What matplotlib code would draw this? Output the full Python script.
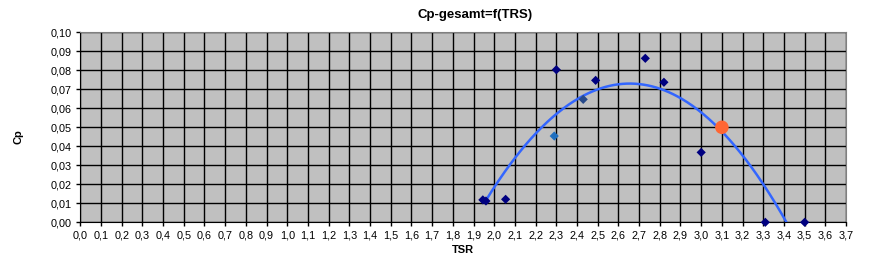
import matplotlib
matplotlib.use("Agg")
import matplotlib.pyplot as plt
import numpy as np
from matplotlib.ticker import FuncFormatter, MultipleLocator

plt.rcParams['font.family'] = ['Liberation Sans', 'DejaVu Sans']

# measured points (TSR, Cp)
tsr = [1.945, 1.96, 2.055, 2.29, 2.30, 2.43, 2.49, 2.73, 2.82, 3.00, 3.31, 3.50]
cp = [0.0118, 0.0112, 0.0121, 0.0454, 0.0803, 0.0647, 0.0747, 0.0863, 0.0737, 0.0368, 0.0, 0.0]
pt_colors = ['#000080', '#000080', '#000080', '#1f6fbf', '#000080', '#274a8a',
             '#000080', '#000080', '#000080', '#000080', '#000080', '#000080']

# design point
tsr_op = [3.10]
cp_op = [0.050]

# polynomial trendline (2nd order) through the measured points
coef = np.polyfit(tsr, cp, 2)
xt = np.linspace(1.958, 3.5, 300)
yt = np.polyval(coef, xt)

fig = plt.figure(figsize=(8.76, 2.66), dpi=100)
ax = fig.add_axes([0.0917, 0.1643, 0.8741, 0.7143])
ax.set_facecolor('#c0c0c0')

ax.plot(xt, yt, color='#3366ff', linewidth=1.8, zorder=3)
ax.scatter(tsr, cp, marker='D', s=22, c=pt_colors, edgecolors='none', zorder=4, clip_on=False)
ax.scatter(tsr_op, cp_op, marker='o', s=95, color='#ff6633', edgecolors='none', zorder=5)

ax.set_xlim(0, 3.7)
ax.set_ylim(0, 0.10)
ax.xaxis.set_major_locator(MultipleLocator(0.1))
ax.yaxis.set_major_locator(MultipleLocator(0.01))
ax.xaxis.set_major_formatter(FuncFormatter(lambda v, p: f"{v:.1f}".replace('.', ',')))
ax.yaxis.set_major_formatter(FuncFormatter(lambda v, p: f"{v:.2f}".replace('.', ',')))
ax.grid(True, color='black', linewidth=1.0)
ax.set_axisbelow(True)

ax.tick_params(direction='out', length=3, width=1, labelsize=7.8, pad=3, colors='black')
for s in ['top', 'right']:
    ax.spines[s].set_color('#808080')
for s in ['left', 'bottom']:
    ax.spines[s].set_color('black')

fig.text(475 / 876, 1 - 15 / 266, 'Cp-gesamt=f(TRS)', ha='center', va='center',
         fontsize=9.5, fontweight='bold')
fig.text(463 / 876, 1 - 250 / 266, 'TSR', ha='center', va='center',
         fontsize=8, fontweight='bold')
fig.text(18 / 876, 1 - 137 / 266, 'Cp', ha='center', va='center', rotation=90,
         fontsize=8, fontweight='bold')

fig.savefig('out.png', dpi=100)
